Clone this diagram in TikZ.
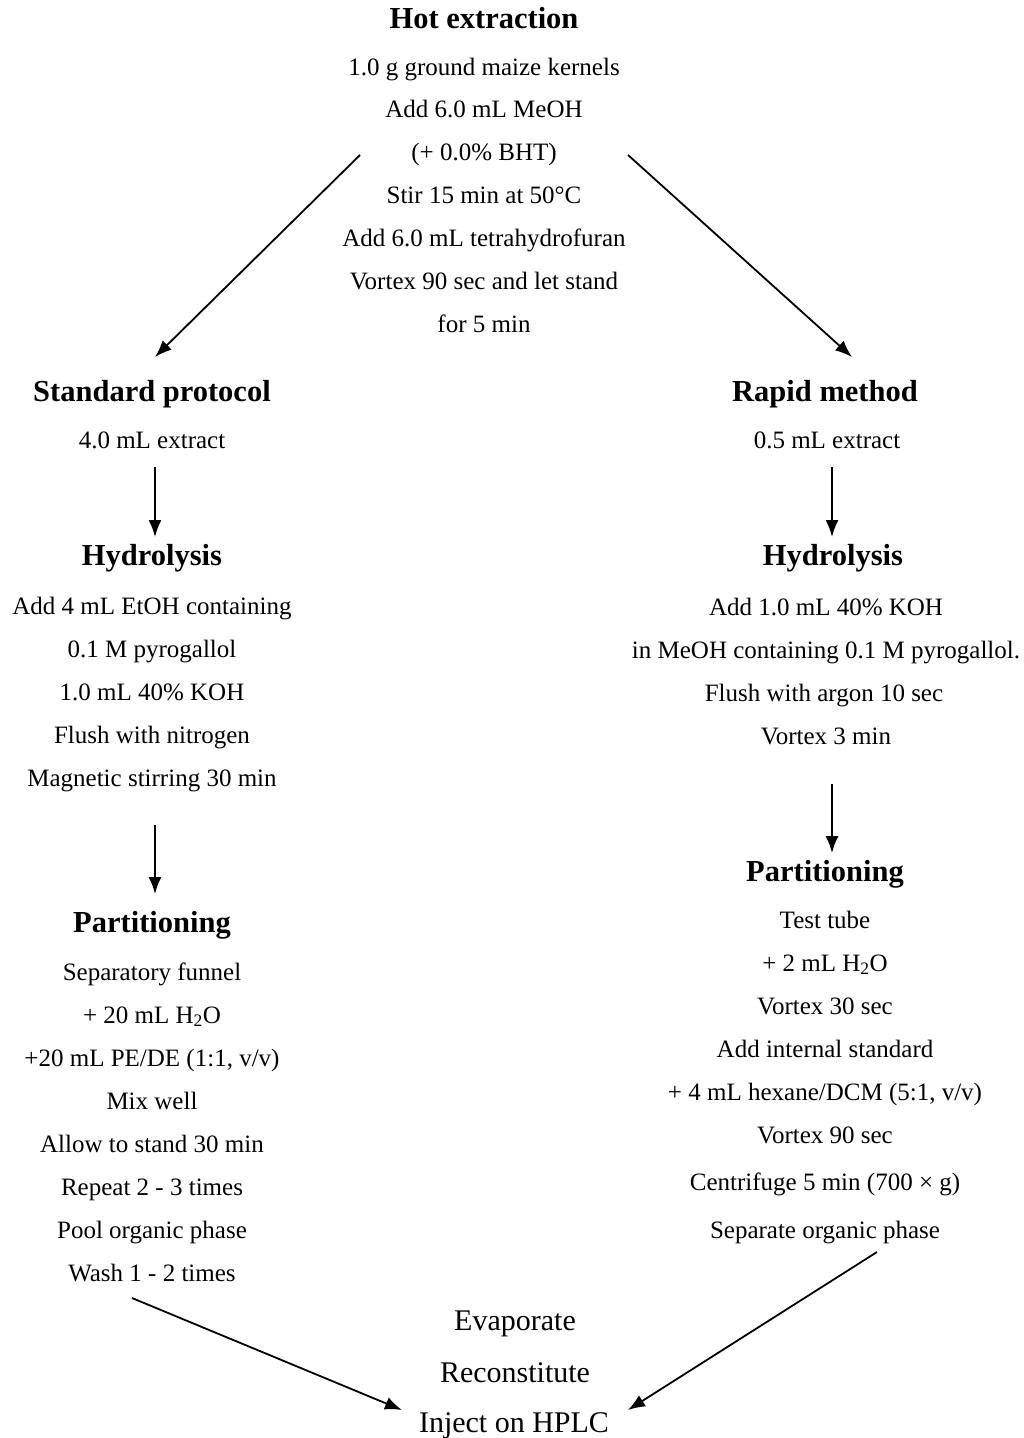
\documentclass[tikz,border=0pt]{standalone}
\usepackage{fontspec}
\setmainfont{Liberation Serif}
\usetikzlibrary{arrows.meta}
\begin{document}
\begin{tikzpicture}[x=1pt,y=-1pt,
  body/.style={anchor=base,inner sep=0pt,font=\fontsize{25}{30}\selectfont},
  big/.style={anchor=base,inner sep=0pt,font=\fontsize{30}{36}\selectfont},
  head/.style={anchor=base,inner sep=0pt,font=\fontsize{30.5}{36}\selectfont\bfseries},
  arr/.style={-{Latex[length=17pt,width=13pt]},line width=1.8pt}]
\useasboundingbox (0,0) rectangle (1024,1438);
\fill[white] (0,0) rectangle (1024,1438);

% ---- Hot extraction
\node[head] (hot) at (484,28) {Hot extraction};
\node[body] (hot1) at (484,75) {1.0 g ground maize kernels};
\node[body] (hot2) at (484,117) {Add 6.0 mL MeOH};
\node[body] (hot3) at (484,160) {(+ 0.0\% BHT)};
\node[body] (hot4) at (484,203) {Stir 15 min at 50°C};
\node[body] (hot5) at (484,246) {Add 6.0 mL tetrahydrofuran};
\node[body] (hot6) at (484,289) {Vortex 90 sec and let stand};
\node[body] (hot7) at (484,332) {for 5 min};

% ---- Standard protocol (left)
\node[head] (std) at (152,401) {Standard protocol};
\node[body] (std1) at (152,448) {4.0 mL extract};
\node[head] (hydL) at (152,565) {Hydrolysis};
\node[body] (hydL1) at (152,614) {Add 4 mL EtOH containing};
\node[body] (hydL2) at (152,657) {0.1 M pyrogallol};
\node[body] (hydL3) at (152,700) {1.0 mL 40\% KOH};
\node[body] (hydL4) at (152,743) {Flush with nitrogen};
\node[body] (hydL5) at (152,786) {Magnetic stirring 30 min};
\node[head] (parL) at (152,932) {Partitioning};
\node[body] (parL1) at (152,980) {Separatory funnel};
\node[body] (parL2) at (152,1023) {+ 20 mL H\textsubscript{2}O};
\node[body] (parL3) at (152,1066) {+20 mL PE/DE (1:1, v/v)};
\node[body] (parL4) at (152,1109) {Mix well};
\node[body] (parL5) at (152,1152) {Allow to stand 30 min};
\node[body] (parL6) at (152,1195) {Repeat 2 - 3 times};
\node[body] (parL7) at (152,1238) {Pool organic phase};
\node[body] (parL8) at (152,1281) {Wash 1 - 2 times};

% ---- Rapid method (right)
\node[head] (rap) at (825,401) {Rapid method};
\node[body] (rap1) at (827,448) {0.5 mL extract};
\node[head] (hydR) at (833,565) {Hydrolysis};
\node[body] (hydR1) at (826,615) {Add 1.0 mL 40\% KOH};
\node[body] (hydR2) at (826,658) {in MeOH containing 0.1 M pyrogallol.};
\node[body] (hydR3) at (824,701) {Flush with argon 10 sec};
\node[body] (hydR4) at (826,744) {Vortex 3 min};
\node[head] (parR) at (825,881) {Partitioning};
\node[body] (parR1) at (825,928) {Test tube};
\node[body] (parR2) at (825,971) {+ 2 mL H\textsubscript{2}O};
\node[body] (parR3) at (825,1014) {Vortex 30 sec};
\node[body] (parR4) at (825,1057) {Add internal standard};
\node[body] (parR5) at (825,1100) {+ 4 mL hexane/DCM (5:1, v/v)};
\node[body] (parR6) at (825,1143) {Vortex 90 sec};
\node[body] (parR7) at (825,1190) {Centrifuge 5 min (700 × g)};
\node[body] (parR8) at (825,1238) {Separate organic phase};

% ---- Final steps
\node[big] (fin1) at (515,1330) {Evaporate};
\node[big] (fin2) at (515,1382) {Reconstitute};
\node[big] (fin3) at (514,1432) {Inject on HPLC};

% ---- connector end points
\coordinate (hotL) at (360,155);
\coordinate (stdT) at (155,357);
\coordinate (hotR) at (628,155);
\coordinate (rapT) at (852,357);
\coordinate (std1B) at (155,467);
\coordinate (hydLT) at (155,537);
\coordinate (hydLB) at (155,825);
\coordinate (parLT) at (155,894);
\coordinate (rap1B) at (832,467);
\coordinate (hydRT) at (832,537);
\coordinate (hydRB) at (832,784);
\coordinate (parRT) at (832,853);
\coordinate (parLB) at (132,1298);
\coordinate (finL) at (402,1410);
\coordinate (parRB) at (877,1252);
\coordinate (finR) at (628,1410);

\draw[arr] (hotL) -- (stdT);
\draw[arr] (hotR) -- (rapT);
\draw[arr] (std1B) -- (hydLT);
\draw[arr] (hydLB) -- (parLT);
\draw[arr] (rap1B) -- (hydRT);
\draw[arr] (hydRB) -- (parRT);
\draw[arr] (parLB) -- (finL);
\draw[arr] (parRB) -- (finR);
\end{tikzpicture}
\end{document}
